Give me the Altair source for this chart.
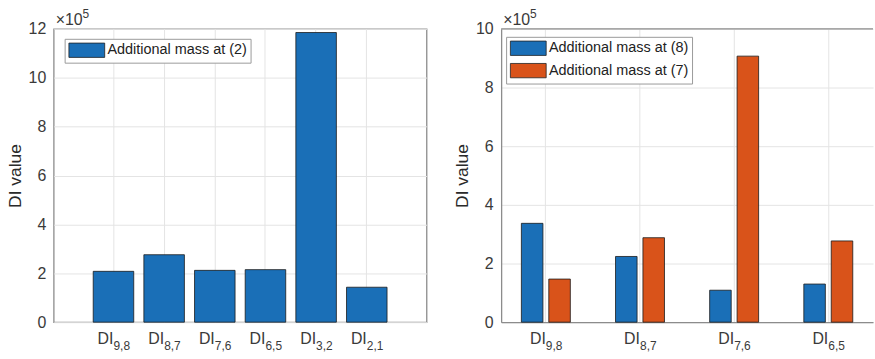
import altair as alt
import pandas as pd

# ---------------- data ----------------
left_cats = ["9,8", "8,7", "7,6", "6,5", "3,2", "2,1"]
left_vals = [208000, 276000, 212000, 215000, 1185000, 143000]
left_series = "Additional mass at (2)"

right_cats = ["9,8", "8,7", "7,6", "6,5"]
right_series = ["Additional mass at (8)", "Additional mass at (7)"]
right_vals_8 = [337000, 224000, 109000, 130000]
right_vals_7 = [147000, 288000, 907000, 277000]

left_ticks = [0, 200000, 400000, 600000, 800000, 1000000, 1200000]
right_ticks = [0, 200000, 400000, 600000, 800000, 1000000]

colors = ["#1a6fb7", "#d9531a"]

# ---------------- style ----------------
F = "Liberation Sans"
LC = "#3a3a3a"
AXC = "#8c8c8c"
GRID = "#e4e4e4"
W1, W2, H = 375, 374, 295

df1 = pd.DataFrame({"cat": left_cats, "value": left_vals, "series": left_series})
df2 = pd.DataFrame({
    "cat": right_cats * 2,
    "value": right_vals_8 + right_vals_7,
    "series": [right_series[0]] * len(right_cats) + [right_series[1]] * len(right_cats),
})
lab1 = pd.DataFrame({"cat": left_cats})
lab2 = pd.DataFrame({"cat": right_cats})
exp_df = pd.DataFrame({"t": ["×10"], "s": ["5"]})


def x_axis(domain):
    return alt.Axis(title=None, labels=False, ticks=False, tickSize=0, domain=domain,
                    domainColor=AXC, domainWidth=1.3, grid=True, gridColor=GRID, gridWidth=1)


def y_axis(vals, domain):
    return alt.Axis(title="DI value", values=vals, labelExpr="format(datum.value/100000, 'd')",
                    ticks=False, tickSize=0, labelPadding=8, labelFont=F, labelFontSize=16,
                    labelColor=LC, titleFont=F, titleFontSize=17.5, titleFontWeight="normal",
                    titleColor="#2a2a2a", titlePadding=4, domain=domain, domainColor=AXC,
                    domainWidth=1.3, grid=True, gridColor=GRID, gridWidth=1)


def legend(lx, ly):
    # wide rectangular swatch: 36 x 14.4 px
    return alt.Legend(title=None, orient="none", legendX=lx, legendY=ly,
                      symbolType="M-1,-1H4V1H-1Z", symbolSize=207.36, symbolOpacity=1,
                      symbolStrokeColor="#222222", symbolStrokeWidth=0.8,
                      labelFont=F, labelFontSize=14.5, labelColor="#222222", labelOffset=23.6,
                      labelLimit=300, strokeColor="#9a9a9a", fillColor="white", padding=3.5,
                      rowPadding=4.5)


def exponent_layers():
    a = alt.Chart(exp_df).mark_text(align="left", baseline="alphabetic", font=F, fontSize=16,
                                     color=LC).encode(x=alt.value(2), y=alt.value(-4), text="t:N")
    b = alt.Chart(exp_df).mark_text(align="left", baseline="alphabetic", font=F, fontSize=12,
                                     color=LC).encode(x=alt.value(29), y=alt.value(-11), text="s:N")
    return [a, b]


def label_layers(df, xenc):
    di = alt.Chart(df).mark_text(text="DI", align="right", baseline="alphabetic", font=F,
                                 fontSize=16, color=LC).encode(x=xenc, y=alt.value(H + 22))
    sub = alt.Chart(df).mark_text(align="left", baseline="alphabetic", font=F, fontSize=12,
                                  color=LC).encode(x=xenc, y=alt.value(H + 28), text="cat:N")
    return [di, sub]


# ---------------- left panel ----------------
xs1 = alt.Scale(domain=left_cats, paddingInner=0.2, paddingOuter=0.78)
x1 = alt.X("cat:N", scale=xs1, sort=left_cats, axis=x_axis(False))
bars1 = alt.Chart(df1).mark_bar(stroke="#1a1a1a", strokeWidth=0.8).encode(
    x=x1,
    y=alt.Y("value:Q", scale=alt.Scale(domain=[0, 1200000], nice=False),
            axis=y_axis(left_ticks, False)),
    color=alt.Color("series:N", scale=alt.Scale(domain=[left_series], range=[colors[0]]),
                    legend=legend(11, 10)),
)
left = alt.layer(bars1, *label_layers(lab1, x1), *exponent_layers()).properties(
    width=W1, height=H, view=alt.ViewBackground(stroke=AXC, strokeWidth=1.3)
)

# ---------------- right panel ----------------
xs2 = alt.Scale(domain=right_cats, paddingInner=0.48, paddingOuter=0.215)
x2 = alt.X("cat:N", scale=xs2, sort=right_cats, axis=x_axis(True))
bars2 = alt.Chart(df2).mark_bar(stroke="#1a1a1a", strokeWidth=0.8).encode(
    x=x2,
    xOffset=alt.XOffset("series:N", sort=right_series,
                        scale=alt.Scale(domain=right_series, paddingInner=0.214, paddingOuter=0)),
    y=alt.Y("value:Q", scale=alt.Scale(domain=[0, 1000000], nice=False),
            axis=y_axis(right_ticks, True)),
    color=alt.Color("series:N", scale=alt.Scale(domain=right_series, range=colors),
                    legend=legend(5, 8)),
)
top_border = alt.Chart(exp_df).mark_rule(color=AXC, strokeWidth=1.3).encode(
    y=alt.datum(1000000)
)
right = alt.layer(bars2, top_border, *label_layers(lab2, x2), *exponent_layers()).properties(
    width=W2, height=H
)

chart = (
    alt.hconcat(left, right, spacing=25)
    .resolve_scale(x="independent", y="independent", color="independent")
    .resolve_legend(color="independent")
    .properties(padding={"left": 5, "top": 6, "right": 0, "bottom": 5}, background="white")
    .configure_view(stroke="transparent")
)

chart.save("out.html", embed_options={"renderer": "svg", "actions": False})
